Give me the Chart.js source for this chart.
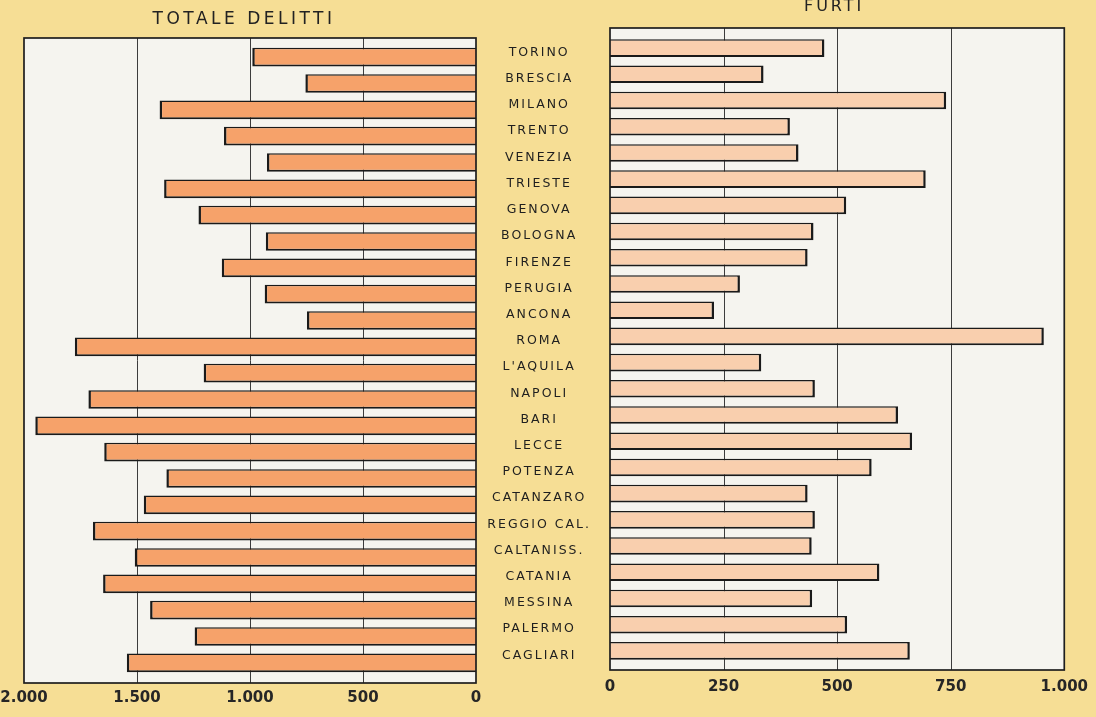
<!DOCTYPE html>
<html><head><meta charset="utf-8">
<script src="https://cdn.jsdelivr.net/npm/chart.js@4/dist/chart.umd.min.js"></script>
<style>
html,body{margin:0;padding:0;background:#F6DE95;width:1096px;height:717px;overflow:hidden;position:relative;}
#left{position:absolute;left:0;top:0;}
#right{position:absolute;left:478px;top:-3px;}
</style></head><body>
<canvas id="left" width="490" height="717"></canvas>
<canvas id="right" width="624" height="720"></canvas>
<script>
const provinces = ['TORINO','BRESCIA','MILANO','TRENTO','VENEZIA','TRIESTE','GENOVA','BOLOGNA','FIRENZE','PERUGIA','ANCONA','ROMA',"L'AQUILA",'NAPOLI','BARI','LECCE','POTENZA','CATANZARO','REGGIO CAL.','CALTANISS.','CATANIA','MESSINA','PALERMO','CAGLIARI'];
const totaleDelitti = [990,755,1400,1115,925,1380,1228,930,1125,935,748,1775,1205,1715,1950,1645,1370,1470,1695,1510,1650,1442,1245,1545];
const furti = [472,338,740,396,415,695,520,448,435,286,229,955,333,451,634,665,576,435,451,444,593,445,522,660];
const leftTickValues = [0,500,1000,1500,2000];
const leftTickLabels = ['0','500','1.000','1.500','2.000'];
const rightTickValues = [0,250,500,750,1000];
const rightTickLabels = ['0','250','500','750','1.000'];
const leftTitle = 'TOTALE DELITTI';
const rightTitle = 'FURTI';

function wrapSpacing(obj, method, spacing, chart, shift){
  if (!obj || obj['_sp_'+method]) return;
  const orig = obj[method];
  obj[method] = function(...args){
    if (typeof shift === 'number') {
      const a = chart.chartArea;
      this.left = a.left + shift; this.right = a.right + shift; this.width = a.right - a.left;
    }
    const c = this.ctx; c.save(); c.letterSpacing = spacing;
    const r = orig.apply(this, args); c.restore(); return r;
  };
  obj['_sp_'+method] = true;
}

const framePlugin = {
  id: 'frame',
  beforeDraw(chart, args, opts){
    wrapSpacing(chart.titleBlock, 'draw', opts.titleSpacing, chart, opts.titleShift);
    if (opts.spacedLabels) wrapSpacing(chart.scales.y, 'drawLabels', '2px', chart, null);
    const {ctx, chartArea:a} = chart;
    ctx.save();
    ctx.fillStyle = '#F5F4EF';
    ctx.fillRect(a.left, a.top - opts.top, a.right - a.left, a.bottom - a.top + opts.top + opts.bottom);
    ctx.restore();
  },
  beforeDatasetsDraw(chart, args, opts){
    const {ctx, chartArea:a} = chart;
    const xs = chart.scales.x;
    ctx.save();
    ctx.strokeStyle = '#3c3c3c'; ctx.lineWidth = 1;
    xs.ticks.forEach(t => {
      if (t.value === xs.min || t.value === xs.max) return;
      const px = Math.round(xs.getPixelForValue(t.value)) + 0.5;
      ctx.beginPath(); ctx.moveTo(px, a.top - opts.top); ctx.lineTo(px, a.bottom + opts.bottom); ctx.stroke();
    });
    ctx.restore();
  },
  afterDatasetsDraw(chart, args, opts){
    const {ctx, chartArea:a} = chart;
    ctx.save();
    ctx.strokeStyle = '#1e1e1e'; ctx.lineWidth = 1.7;
    ctx.strokeRect(a.left, a.top - opts.top, a.right - a.left, a.bottom - a.top + opts.top + opts.bottom);
    ctx.restore();
  }
};

const tickFont = {family:'DejaVu Sans', size:15, weight:'bold'};

function makeX(values, labels, min, max, reverse, pad, h){
  return {
    type:'linear', min, max, reverse,
    afterBuildTicks: s => { s.ticks = values.map(v => ({value:v})); },
    ticks:{ callback: v => labels[values.indexOf(v)], font: tickFont, color:'#262626', padding: pad, maxRotation:0, autoSkip:false },
    grid:{display:false, drawTicks:false}, border:{display:false},
    afterFit: s => { s.height = h; }
  };
}

new Chart(document.getElementById('left'), {
  type:'bar',
  data:{ labels: provinces, datasets:[{
    data: totaleDelitti, backgroundColor:'#F6A26A', borderColor:'#1a1a1a',
    borderWidth:{top:1.5,bottom:2,left:2.5,right:2}, borderSkipped:'start',
    barPercentage:0.71, categoryPercentage:1
  }]},
  options:{
    indexAxis:'y', responsive:false, animation:false,
    layout:{padding:{left:24,right:14,top:0,bottom:0}},
    scales:{
      x: makeX(leftTickValues, leftTickLabels, 0, 2000, true, 13, 41),
      y: { display:false }
    },
    plugins:{
      legend:{display:false}, tooltip:{enabled:false},
      title:{display:true, text:leftTitle, color:'#222', font:{family:'DejaVu Sans', size:17, weight:'normal'}, padding:{top:9,bottom:14.6}},
      frame:{top:6, bottom:7, spacedLabels:false, titleSpacing:'3.5px', titleShift:-6}
    }
  },
  plugins:[framePlugin]
});

new Chart(document.getElementById('right'), {
  type:'bar',
  data:{ labels: provinces, datasets:[{
    data: furti, backgroundColor:'#F9CFAE', borderColor:'#1a1a1a',
    borderWidth:{top:1.5,bottom:2,left:2,right:2.5}, borderSkipped:'start',
    barPercentage:0.67, categoryPercentage:1
  }]},
  options:{
    indexAxis:'y', responsive:false, animation:false,
    layout:{padding:{left:0,right:26,top:0,bottom:0}},
    scales:{
      x: makeX(rightTickValues, rightTickLabels, 0, 1000, false, 14, 53),
      y: {
        position:'left',
        ticks:{ crossAlign:'center', padding:30, labelOffset:4.5, font:{family:'DejaVu Sans', size:12.5}, color:'#1f1f1f', autoSkip:false },
        grid:{display:false, drawTicks:false}, border:{display:false},
        afterFit: s => { s.width = 132; }
      }
    },
    plugins:{
      legend:{display:false}, tooltip:{enabled:false},
      title:{display:true, text:rightTitle, color:'#222', font:{family:'DejaVu Sans', size:16, weight:'normal'}, padding:{top:0,bottom:18.8}},
      frame:{top:7, bottom:6, spacedLabels:true, titleSpacing:'3px', titleShift:-3}
    }
  },
  plugins:[framePlugin]
});
</script>
</body></html>
